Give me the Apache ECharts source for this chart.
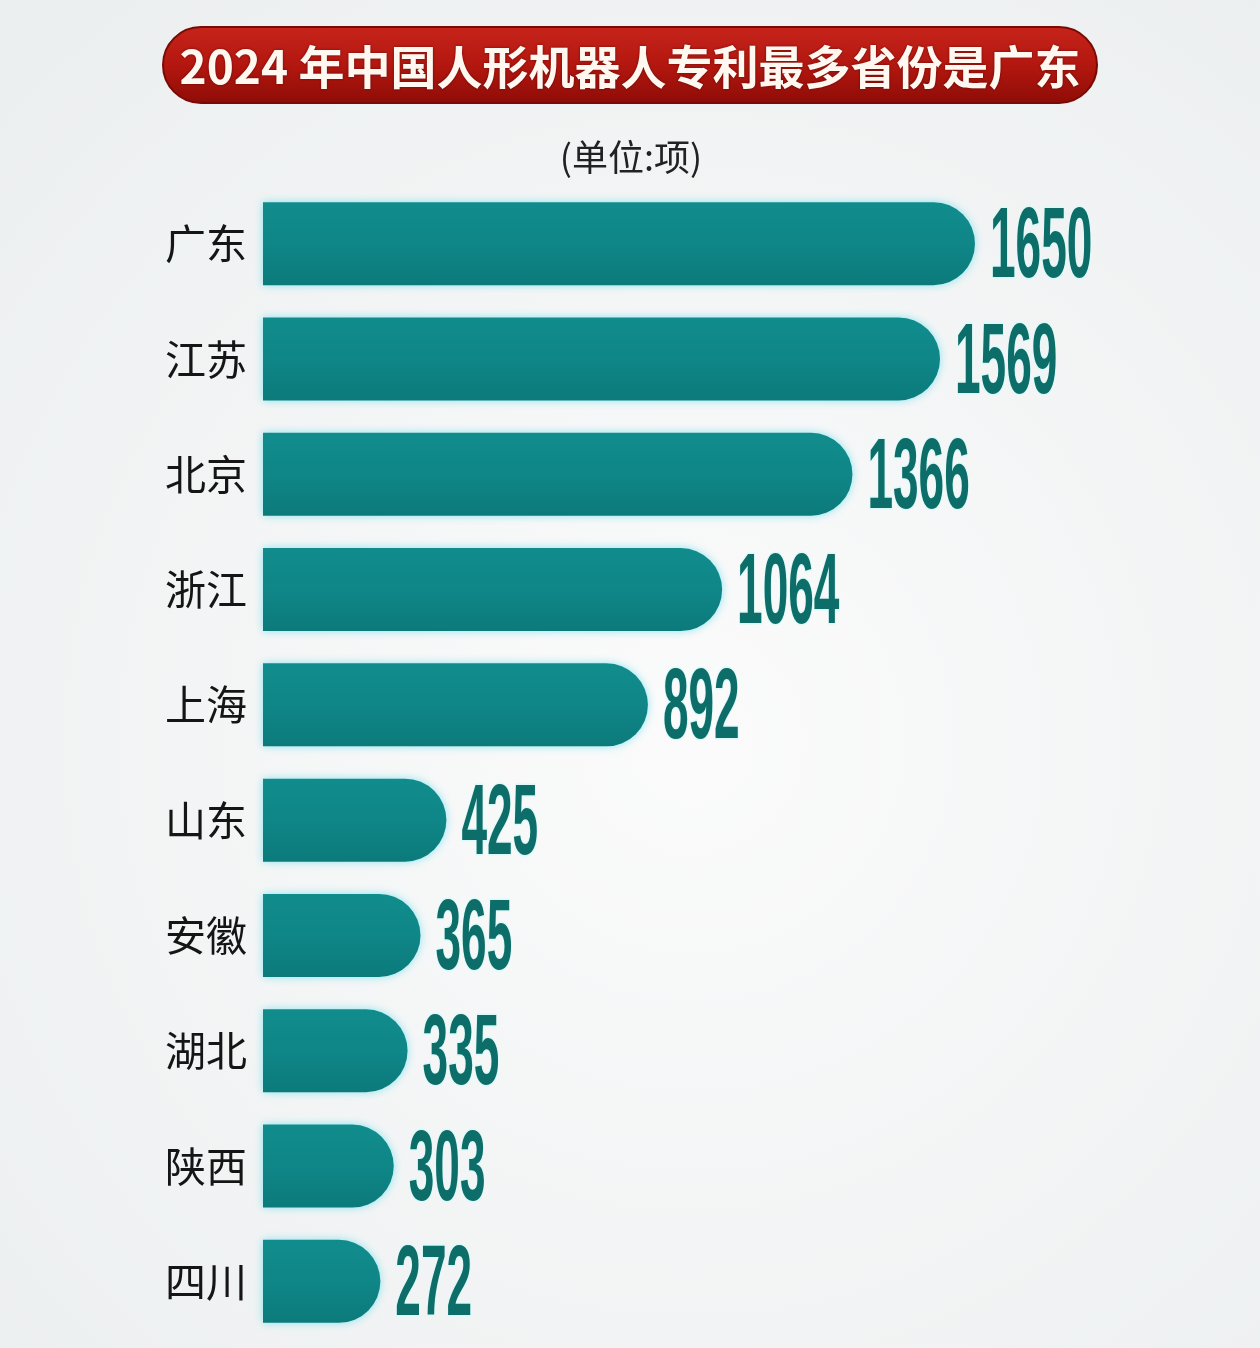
<!DOCTYPE html>
<html><head><meta charset="utf-8">
<script src="https://cdn.jsdelivr.net/npm/echarts@6/dist/echarts.min.js"></script>
<style>html,body{margin:0;padding:0;background:#f1f3f3;}#c{width:1260px;height:1348px;}</style>
</head><body><div id="c"></div>
<script>
const titleText = '2024 年中国人形机器人专利最多省份是广东';
const unitText = '(单位:项)';
const provinces = ['广东','江苏','北京','浙江','上海','山东','安徽','湖北','陕西','四川'];
const patents = [1650,1569,1366,1064,892,425,365,335,303,272];

const chart = echarts.init(document.getElementById('c'));
chart.setOption({
  backgroundColor: {
    type:'radial', x:0.55, y:0.55, r:0.75,
    colorStops:[{offset:0,color:'#fbfbfb'},{offset:1,color:'#eceff0'}]
  },
  animation:false,
  graphic:[
    {type:'rect', shape:{x:163,y:27,width:934,height:76,r:38},
     style:{fill:{type:'linear',x:0,y:0,x2:0,y2:1,colorStops:[{offset:0,color:'#c7241b'},{offset:0.5,color:'#b3170f'},{offset:1,color:'#8e0c07'}]},
            stroke:'#7a0a05', lineWidth:2}},
    {type:'text', x:630, y:67, style:{text:titleText, fill:'#fff8f0', font:'bold 46px "Noto Sans CJK SC"', align:'center', verticalAlign:'middle', textShadowColor:'rgba(60,0,0,0.6)', textShadowBlur:3}},
    {type:'text', x:631, y:157, style:{text:unitText, fill:'#222', font:'36px "Noto Sans CJK SC"', align:'center', verticalAlign:'middle'}}
  ],
  grid:{left:263, right:134, top:186, bottom:9, containLabel:false},
  xAxis:{type:'value', min:0, max:2000, show:false},
  yAxis:{type:'category', data:provinces, inverse:true,
    axisLine:{show:false}, axisTick:{show:false},
    axisLabel:{margin:16, fontSize:41, color:'#151515', fontFamily:'"Noto Sans CJK SC"', fontWeight:'normal'}},
  series:[
    {type:'bar', data:patents, barWidth:83,
     itemStyle:{color:{type:'linear',x:0,y:0,x2:0,y2:1,colorStops:[{offset:0,color:'#118c8c'},{offset:0.5,color:'#0f8688'},{offset:1,color:'#0c7a7a'}]},
       borderRadius:[0,42,42,0], shadowColor:'rgba(90,220,235,0.7)', shadowBlur:8}},
    {type:'custom', data:patents.map((v,i)=>[v,provinces[i]]), encode:{x:0,y:1},
     renderItem:function(params, api){
       const p = api.coord([api.value(0), api.value(1)]);
       return {type:'text', x:p[0]+15, y:p[1]+6, scaleX:0.46, scaleY:1,
         style:{text:String(api.value(0)), x:0, y:0, fill:'#0d6d69', fontSize:100, fontWeight:'bold',
           fontFamily:'"Liberation Sans"', align:'left', verticalAlign:'middle',
           stroke:'rgba(215,250,250,0.9)', lineWidth:3}};
     }}
  ]
});
</script></body></html>
